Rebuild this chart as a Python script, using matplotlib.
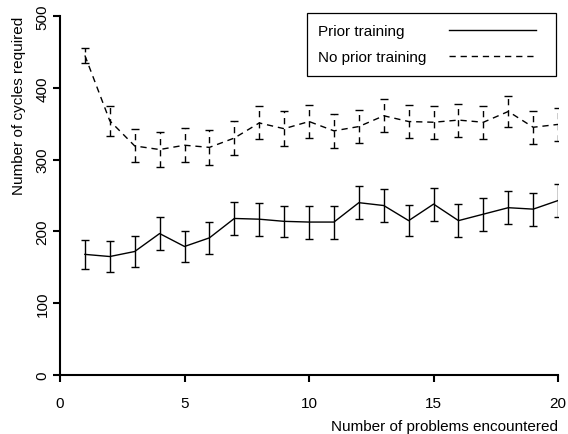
import matplotlib

matplotlib.use("Agg")
import matplotlib.pyplot as plt
from matplotlib.legend_handler import HandlerLine2D
from matplotlib.lines import Line2D

plt.rcParams["font.family"] = ["Liberation Sans", "DejaVu Sans"]
plt.rcParams["font.size"] = 11

problems = list(range(1, 21))

prior_mean = [168, 165, 172, 197, 179, 191, 218, 217, 214, 213,
              213, 240, 236, 215, 238, 215, 224, 233, 231, 243]
prior_err = [20, 21, 22, 23, 22, 22, 23, 23, 22, 23,
             23, 23, 23, 22, 23, 23, 23, 23, 23, 23]

no_prior_mean = [445, 354, 319, 314, 320, 317, 330, 351, 343, 353,
                 340, 346, 361, 353, 352, 355, 352, 367, 345, 349]
no_prior_err = [11, 21, 23, 24, 24, 24, 24, 23, 24, 23,
                24, 23, 23, 23, 23, 23, 23, 22, 23, 23]

DASH = (0, (4.5, 3.5))


class ShortLineHandler(HandlerLine2D):
    """Draws the legend sample line a bit shorter than its slot."""

    def __init__(self, trim, **kw):
        super().__init__(**kw)
        self.trim = trim

    def create_artists(self, legend, orig_handle, xdescent, ydescent,
                       width, height, fontsize, trans):
        return super().create_artists(legend, orig_handle, xdescent, ydescent,
                                      width - self.trim * fontsize, height,
                                      fontsize, trans)


fig = plt.figure(figsize=(5.68, 4.35), dpi=100)
ax = fig.add_axes([0.1056, 0.1356, 0.877, 0.8254])

ax.errorbar(problems, prior_mean, yerr=prior_err, color="black", linewidth=1.0,
            elinewidth=1.0, capsize=2.6, capthick=1.0)
dashed = ax.errorbar(problems, no_prior_mean, yerr=no_prior_err, color="black",
                     linewidth=1.0, linestyle=DASH, elinewidth=1.0, capsize=2.6,
                     capthick=1.0)
for coll in dashed[2]:
    coll.set_linestyle(DASH)

ax.set_xlim(0, 20)
ax.set_ylim(0, 500)
ax.set_xticks([0, 5, 10, 15, 20])
ax.set_yticks([0, 100, 200, 300, 400, 500])
for label in ax.get_yticklabels():
    label.set_rotation(90)
    label.set_va("center")

for side in ("top", "right"):
    ax.spines[side].set_visible(False)
for side in ("left", "bottom"):
    ax.spines[side].set_linewidth(1.5)
ax.tick_params(direction="out", length=5, width=1.5, labelsize=11)
ax.tick_params(axis="x", pad=10)
ax.tick_params(axis="y", pad=2.5)

ax.set_xlabel("Number of problems encountered", loc="right", labelpad=6.5)
ax.set_ylabel("Number of cycles required", loc="top", labelpad=7)

solid_key = Line2D([], [], color="black", linewidth=1.0)
dashed_key = Line2D([], [], color="black", linewidth=1.0, linestyle=DASH)
leg = ax.legend([solid_key, dashed_key], ["Prior training", "No prior training"],
                loc="upper right", bbox_to_anchor=(556 / 568, 1 - 14 / 435),
                bbox_transform=fig.transFigure, borderaxespad=0,
                markerfirst=False, handlelength=6.28, handletextpad=1.44,
                fancybox=False, edgecolor="black", framealpha=1,
                borderpad=0.75, labelspacing=0.77, fontsize=11,
                handler_map={Line2D: ShortLineHandler(trim=0.59)})
leg.get_frame().set_linewidth(0.9)

# keep the labels left-aligned even though the keys sit on the right
fig.canvas.draw()
renderer = fig.canvas.get_renderer()
widths = [t.get_window_extent(renderer).width for t in leg.get_texts()]
rows = [row for col in leg._legend_handle_box.get_children() for row in col.get_children()]
for row, w in zip(rows, widths):
    row.sep += (max(widths) - w) * 72 / fig.dpi

fig.savefig("out.png", dpi=100)
